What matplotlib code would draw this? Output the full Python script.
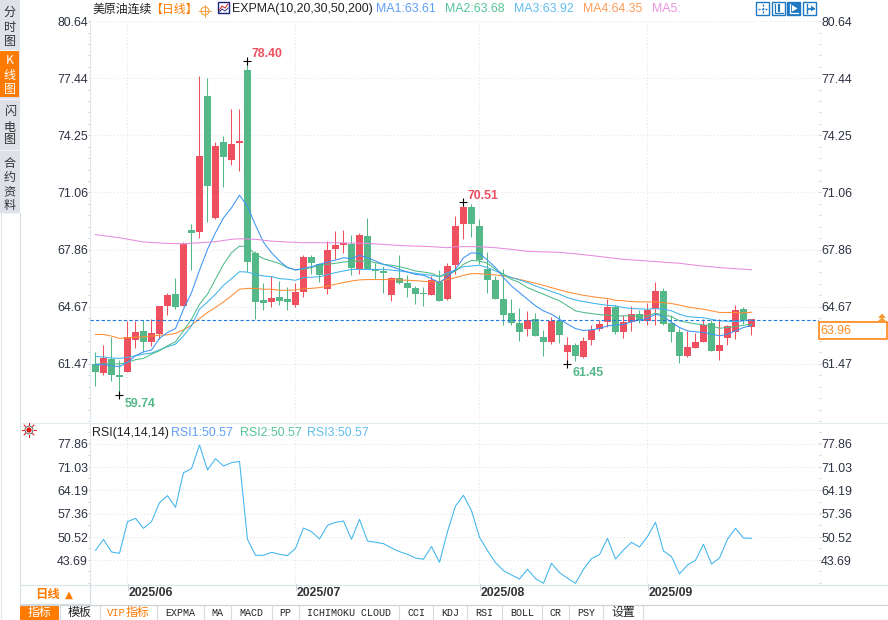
import numpy as np
import matplotlib
matplotlib.use("Agg")
import matplotlib.pyplot as plt
from matplotlib.patches import Rectangle, Polygon, Circle

plt.rcParams['font.family'] = ['Liberation Sans', 'Noto Sans CJK SC', 'DejaVu Sans']

# candles
opens = [61.46, 60.95, 61.73, 60.84, 61.03, 62.81, 63.30, 62.70, 63.15, 64.71, 65.36, 64.71, 68.93, 68.83,
         76.46, 69.61, 73.89, 72.89, 73.80, 77.91, 67.65, 65.02, 64.91, 65.19, 65.08, 64.75, 65.49, 67.42,
         67.03, 65.64, 67.87, 68.09, 68.15, 66.75, 68.59, 66.75, 66.64, 65.30, 66.25, 65.97, 65.69, 65.41,
         65.34, 66.03, 65.08, 66.98, 69.26, 70.21, 69.15, 66.75, 66.14, 65.08, 64.30, 63.74, 63.41, 63.96,
         62.96, 62.68, 63.85, 62.12, 62.51, 61.84, 62.79, 63.41, 63.80, 64.63, 63.24, 63.80, 64.24, 63.85,
         64.52, 65.53, 63.74, 63.24, 61.90, 62.35, 62.68, 63.74, 62.18, 62.90, 63.24, 64.52, 63.52]
closes = [61.03, 61.77, 60.86, 60.75, 62.94, 63.22, 62.70, 63.18, 64.69, 65.30, 64.65, 68.17, 68.78, 73.11,
          71.40, 73.67, 73.02, 73.78, 73.95, 67.16, 64.93, 64.86, 65.14, 64.99, 64.91, 65.47, 67.42, 67.09,
          66.42, 67.81, 68.09, 68.22, 66.81, 68.65, 66.75, 66.66, 66.53, 66.25, 65.97, 65.69, 65.36, 65.38,
          66.14, 64.97, 66.92, 69.15, 70.21, 69.26, 67.25, 66.14, 65.08, 64.19, 63.74, 63.24, 63.91, 63.02,
          62.70, 63.85, 63.07, 62.51, 61.90, 62.74, 63.37, 63.69, 64.63, 63.24, 63.80, 64.24, 63.91, 64.47,
          65.53, 63.69, 63.24, 61.90, 62.40, 62.68, 63.63, 62.18, 62.51, 63.57, 64.47, 63.91, 63.96]
highs = [62.11, 62.51, 62.98, 61.68, 63.87, 63.87, 63.91, 63.96, 64.71, 65.41, 66.25, 68.30, 69.26, 77.57,
         77.46, 73.89, 74.23, 75.73, 75.73, 78.40, 67.78, 66.01, 66.40, 66.08, 65.79, 65.97, 67.53, 67.53,
         67.12, 68.31, 68.87, 68.93, 68.65, 68.76, 69.60, 67.12, 66.94, 66.31, 67.53, 66.42, 65.80, 65.75,
         66.36, 66.70, 67.09, 69.71, 70.51, 70.38, 69.54, 67.70, 66.36, 66.75, 65.08, 64.58, 64.41, 64.30,
         63.35, 64.08, 64.19, 62.96, 62.63, 62.96, 63.63, 63.91, 65.08, 64.74, 64.19, 64.69, 64.47, 64.86,
         66.03, 65.69, 64.19, 63.46, 63.30, 63.18, 63.96, 63.91, 63.96, 63.63, 64.74, 64.63, 63.96]
lows = [60.25, 60.86, 60.53, 59.74, 61.00, 62.35, 62.14, 62.48, 62.85, 64.19, 64.52, 64.71, 66.72, 68.48,
        69.39, 69.54, 71.34, 72.61, 72.27, 66.62, 63.96, 64.47, 64.63, 64.75, 64.47, 64.63, 65.19, 66.47,
        66.05, 65.36, 67.31, 67.64, 66.42, 66.47, 66.75, 66.20, 65.41, 64.97, 65.92, 65.19, 64.80, 64.69,
        65.30, 64.97, 65.02, 66.47, 68.43, 68.54, 67.03, 65.41, 65.08, 63.63, 63.63, 62.74, 63.02, 63.02,
        61.90, 62.57, 62.63, 61.45, 61.62, 61.79, 62.51, 63.30, 63.52, 63.13, 62.90, 63.30, 63.74, 63.63,
        63.63, 63.63, 62.68, 61.50, 61.84, 62.35, 62.68, 62.18, 61.68, 62.51, 62.85, 63.69, 63.07]

# moving averages
ma1 = [61.42, 61.42, 61.36, 61.31, 61.55, 61.92, 62.14, 62.24, 62.89, 63.22, 63.44, 64.52, 65.45, 66.70,
       67.87, 68.80, 69.63, 70.19, 70.90, 70.27, 69.22, 68.27, 67.68, 67.22, 66.85, 66.72, 66.81, 66.90,
       67.03, 67.16, 67.27, 67.40, 67.35, 67.53, 67.40, 67.22, 67.03, 66.90, 66.75, 66.60, 66.47, 66.42,
       66.23, 66.01, 66.34, 66.75, 67.40, 67.68, 67.63, 67.27, 66.85, 66.29, 65.82, 65.45, 65.08, 64.71,
       64.43, 64.24, 63.96, 63.69, 63.44, 63.33, 63.37, 63.44, 63.59, 63.63, 63.67, 63.81, 63.93, 64.00,
       64.24, 64.11, 63.78, 63.50, 63.31, 63.26, 63.22, 63.13, 63.03, 63.13, 63.31, 63.50, 63.61]
ma2 = [61.46, 61.46, 61.47, 61.46, 61.55, 61.70, 61.77, 62.01, 62.20, 62.48, 62.70, 63.31, 63.96, 64.80,
       65.36, 66.20, 67.03, 67.68, 68.05, 68.02, 67.59, 67.35, 67.22, 67.07, 66.85, 66.72, 66.75, 66.85,
       66.98, 67.03, 67.09, 67.16, 67.20, 67.22, 67.22, 67.12, 67.03, 66.98, 66.90, 66.79, 66.66, 66.60,
       66.53, 66.34, 66.47, 66.66, 67.03, 67.25, 67.22, 67.09, 66.75, 66.47, 66.19, 66.01, 65.73, 65.54,
       65.36, 65.17, 64.99, 64.71, 64.43, 64.34, 64.28, 64.22, 64.19, 64.15, 64.15, 64.15, 64.15, 64.15,
       64.30, 64.21, 64.11, 63.87, 63.78, 63.70, 63.65, 63.59, 63.46, 63.50, 63.55, 63.63, 63.68]
ma3 = [61.88, 61.85, 61.79, 61.77, 61.83, 61.92, 62.01, 62.07, 62.25, 62.42, 62.57, 63.03, 63.59, 64.52,
       64.93, 65.36, 65.86, 66.23, 66.62, 66.60, 66.47, 66.38, 66.34, 66.23, 66.20, 66.14, 66.29, 66.31,
       66.34, 66.45, 66.57, 66.66, 66.75, 66.75, 66.75, 66.75, 66.75, 66.71, 66.66, 66.60, 66.53, 66.47,
       66.42, 66.34, 66.57, 66.71, 66.90, 66.94, 66.98, 66.85, 66.66, 66.47, 66.29, 66.16, 66.01, 65.82,
       65.67, 65.51, 65.36, 65.17, 65.04, 64.95, 64.87, 64.80, 64.74, 64.71, 64.61, 64.56, 64.54, 64.52,
       64.56, 64.52, 64.43, 64.24, 64.11, 64.07, 64.04, 63.96, 63.87, 63.85, 63.83, 63.87, 63.92]
ma4 = [63.11, 63.11, 63.02, 62.89, 62.92, 62.96, 62.98, 63.02, 63.07, 63.09, 63.17, 63.37, 63.63, 64.00,
       64.34, 64.62, 64.93, 65.27, 65.64, 65.69, 65.68, 65.64, 65.64, 65.58, 65.58, 65.60, 65.67, 65.69,
       65.73, 65.82, 65.92, 66.01, 66.10, 66.16, 66.18, 66.18, 66.18, 66.18, 66.16, 66.14, 66.12, 66.08,
       66.06, 66.06, 66.19, 66.29, 66.42, 66.51, 66.51, 66.47, 66.44, 66.38, 66.29, 66.19, 66.08, 65.97,
       65.86, 65.73, 65.60, 65.49, 65.39, 65.30, 65.23, 65.17, 65.12, 65.02, 64.99, 64.95, 64.93, 64.93,
       64.93, 64.89, 64.84, 64.75, 64.65, 64.58, 64.52, 64.43, 64.34, 64.34, 64.34, 64.32, 64.35]
ma5_idx = [0, 3, 6, 9, 11, 13, 15, 17, 18, 20, 22, 24, 26, 30, 34, 38, 40, 42, 44, 45, 48, 50, 52, 54, 55,
           58, 60, 63, 66, 69, 73, 75, 78, 82]
ma5 = [68.69, 68.52, 68.28, 68.20, 68.18, 68.24, 68.30, 68.43, 68.46, 68.43, 68.33, 68.28, 68.24, 68.24,
       68.20, 68.09, 68.05, 68.02, 67.96, 68.02, 68.02, 67.96, 67.87, 67.76, 67.74, 67.70, 67.62, 67.47,
       67.31, 67.22, 67.09, 66.98, 66.85, 66.73]

rsi = [46.6, 49.85, 46.14, 45.75, 55.04, 56.02, 53.08, 55.04, 60.62, 62.67, 59.25, 69.42, 70.60, 77.55,
       70.21, 73.53, 71.38, 72.36, 72.75, 49.85, 45.16, 45.16, 46.04, 45.45, 45.06, 47.21, 53.18, 52.10,
       49.95, 53.96, 54.85, 55.24, 49.85, 55.72, 49.37, 48.97, 48.58, 47.31, 46.23, 45.45, 44.37, 43.98,
       47.70, 43.10, 52.10, 59.64, 62.77, 58.27, 50.44, 46.53, 43.00, 40.66, 39.38, 38.21, 41.05, 38.31,
       36.94, 42.81, 40.07, 38.41, 36.94, 41.05, 44.18, 45.35, 50.15, 44.08, 46.72, 48.97, 47.60, 50.64,
       54.85, 46.43, 44.77, 39.68, 42.32, 43.69, 48.39, 42.61, 44.37, 49.85, 53.08, 50.25, 50.15]

price_ticks = [80.64, 77.44, 74.25, 71.06, 67.86, 64.67, 61.47]
rsi_ticks = [77.86, 71.03, 64.19, 57.36, 50.52, 43.69]
date_idx = [4, 25, 48, 69]
date_labels = ['2025/06', '2025/07', '2025/08', '2025/09']
last_price = 63.96
tab_labels = ['EXPMA', 'MA', 'MACD', 'PP', 'ICHIMOKU CLOUD', 'CCI', 'KDJ', 'RSI', 'BOLL', 'CR', 'PSY']
tab_edges = [157, 204, 231, 272, 299, 399, 433, 467, 502, 542, 569, 603]

RED = '#ee5060'
GREEN = '#55b888'
C1, C2, C3, C4, C5 = '#3b94f5', '#4dbb87', '#3fb4ec', '#ff8c35', '#e68adf'
MUTED1, MUTED2, MUTED3, MUTED4, MUTED5 = '#5f9ff8', '#55c596', '#62bdf0', '#ff9c57', '#ea94e2'
ORANGE = '#ff7a00'
GRID = '#e3e7ea'
TXT = '#2d3242'
W, H = 888, 620
LW = 0.75


def px_axes(fig, x0, y0, x1, y1, **kw):
    return fig.add_axes([x0 / W, 1 - y1 / H, (x1 - x0) / W, (y1 - y0) / H], **kw)


def style_panel(ax, ticks, minor):
    ax.set_yticks(ticks)
    ax.set_yticks(minor, minor=True)
    ax.set_yticklabels(['%.2f' % t for t in ticks], fontsize=8.9, color=TXT)
    ax.tick_params(axis='y', which='major', length=1, color='#c9ced3', width=0.7, left=True, right=True,
                   labelleft=True, labelright=True, pad=0.5)
    ax.tick_params(axis='y', which='minor', length=1.5, color='#c9ced3', width=0.7, left=True, right=True)
    ax.set_xticks(date_idx)
    ax.tick_params(axis='x', length=0, labelbottom=False)
    ax.grid(axis='both', which='major', color=GRID, linestyle=(0, (1, 2)), linewidth=0.8)
    ax.set_axisbelow(True)
    for s in ['top', 'right', 'bottom']:
        ax.spines[s].set_visible(False)
    ax.spines['left'].set_color('#dfe8ec')


fig = plt.figure(figsize=(W / 100, H / 100), dpi=100, facecolor='white')

# price panel
ax = px_axes(fig, 90, 21, 819, 421)
ax.set_xlim(-0.6875, 90.44)
ax.set_ylim(58.33, 80.64)
style_panel(ax, price_ticks, np.arange(58.27, 80.64, 0.639))
idx = np.arange(len(opens))
colors = [RED if c >= o else GREEN for o, c in zip(opens, closes)]
ax.vlines(idx, lows, highs, colors=colors, linewidth=0.75, zorder=2)
ax.bar(idx, np.abs(np.array(closes) - np.array(opens)), bottom=np.minimum(opens, closes), width=0.875,
       color=colors, linewidth=0, zorder=3)
ax.plot(idx, ma4, color=C4, lw=LW, zorder=4)
ax.plot(idx, ma3, color=C3, lw=LW, zorder=4)
ax.plot(idx, ma2, color=C2, lw=LW, zorder=4)
ax.plot(idx, ma1, color=C1, lw=LW, zorder=4)
ax.plot(ma5_idx, ma5, color=C5, lw=LW, zorder=4)
ax.axhline(last_price - 0.05, color='#1f7be0', lw=0.8, linestyle=(0, (3, 2)), zorder=5)

# high / low marks
for i, val, col, dx, dy in [(19, 78.40, RED, 4.5, 7), (46, 70.51, RED, 4, 6),
                            (3, 59.74, GREEN, 5, -9), (59, 61.45, GREEN, 5, -9)]:
    ax.plot([i], [val], marker='+', color='black', ms=5.5, mew=0.8, zorder=6, clip_on=False)
    ax.annotate('%.2f' % val, (i, val), xytext=(dx, dy), textcoords='offset pixels', color=col,
                fontsize=8.9, fontweight='bold', va='center', ha='left', zorder=6)

# rsi panel
ax2 = px_axes(fig, 90, 423, 819, 584)
ax2.set_xlim(-0.6875, 90.44)
ax2.set_ylim(36.73, 84.01)
style_panel(ax2, rsi_ticks, np.arange(37.0, 84.0, 3.417))
ax2.plot(idx, rsi, color=C3, lw=LW, zorder=4)

# page chrome drawn in pixel coordinates
ui = fig.add_axes([0, 0, 1, 1], zorder=10)
ui.set_xlim(0, W)
ui.set_ylim(H, 0)
ui.axis('off')
ui.patch.set_alpha(0)

CJK = ['Noto Sans CJK SC', 'DejaVu Sans']

# side tabs
ui.add_patch(Rectangle((0, 0), 19.5, 213, fc='#dfe1e9', ec='none'))
ui.add_patch(Rectangle((0, 51), 19, 46, fc=ORANGE, ec='none'))
for y in [49.5, 98.5, 149.5, 213]:
    ui.plot([0, 20], [y, y], color='#f3f4f7', lw=0.8)
ui.plot([20, 20], [213, 604], color='#d9dee2', lw=0.8)
ui.plot([0.5, 0.5], [213, 620], color='#e4e7ea', lw=0.8)
side = [(list('分时图'), [12, 27, 41], '#333333'), (list('K线图'), [61, 76, 90], 'white'),
        (list('闪电图'), [112, 127, 140], '#333333'), (list('合约资料'), [163, 178, 192, 205], '#333333')]
for chars, ys, col in side:
    for ch, y in zip(chars, ys):
        ui.text(9.7, y, ch, ha='center', va='center', fontsize=8.7, color=col, family=CJK)

# price header
ui.text(92, 9, '美原油连续', fontsize=8.6, va='center', color='#222222', family=CJK)
ui.text(150, 9, '【日线】', fontsize=8.6, va='center', color=ORANGE, family=CJK)
ui.add_patch(Circle((205, 11), 4, fc='none', ec='#f5a040', lw=0.8))
ui.plot([199, 211], [11, 11], color='#f5a040', lw=0.7)
ui.plot([205, 205], [5, 17], color='#f5a040', lw=0.7)
ui.add_patch(Rectangle((218, 2), 11, 11, fc='white', ec='#1a237e', lw=1))
ui.plot([219.5, 222, 225, 228], [10, 6, 8, 4], color='#d02020', lw=0.7)
ui.plot([219.5, 222, 225, 228], [12, 9, 11, 8], color='#1a237e', lw=0.6)
ui.text(232, 9, 'EXPMA(10,20,30,50,200)', fontsize=8.9, va='center', color='#222222')
for x, s, col in [(376, 'MA1:63.61', MUTED1), (445, 'MA2:63.68', MUTED2), (514, 'MA3:63.92', MUTED3),
                  (583, 'MA4:64.35', MUTED4), (652, 'MA5:', MUTED5)]:
    ui.text(x, 9, s, fontsize=8.9, va='center', color=col)

# toolbar icons
for n, x in enumerate([756, 771.5, 787, 803]):
    filled = n == 2
    ui.add_patch(Rectangle((x, 2), 13, 13, fc='#1f78c1' if filled else 'white', ec='#1f78c1', lw=1))
    col = 'white' if filled else '#1f78c1'
    if n == 0:
        ui.plot([x + 2, x + 11], [8.5, 8.5], color=col, lw=1, linestyle=(0, (1.5, 1)))
        ui.plot([x + 6.5, x + 6.5], [4, 13], color=col, lw=1, linestyle=(0, (1.5, 1)))
    elif n == 1:
        ui.plot([x + 3, x + 3, x + 11], [3.5, 12.5, 12.5], color=col, lw=0.9)
        ui.plot([x + 7, x + 7], [5, 11], color=col, lw=1.5)
    elif n == 2:
        ui.plot([x + 3, x + 3, x + 11], [3.5, 12.5, 12.5], color=col, lw=0.9)
        ui.add_patch(Polygon([(x + 5, 5), (x + 10.5, 8.5), (x + 5, 11.5)], fc=col, ec='none'))
    else:
        ui.plot([x + 3.5, x + 3.5], [4, 13], color=col, lw=1)
        ui.plot([x + 5, x + 11], [8.5, 8.5], color=col, lw=1.2)
        ui.add_patch(Polygon([(x + 8, 5.5), (x + 12, 8.5), (x + 8, 11.5)], fc=col, ec='none'))

# current price tag
ui.add_patch(Rectangle((818.5, 321.5), 68, 17, fc='white', ec=ORANGE, lw=1.1))
ui.text(820.5, 330.5, '%.2f' % last_price, fontsize=8.9, va='center', color='#ff8a1f')
ui.add_patch(Polygon([(878, 318), (882, 313.5), (886, 318)], fc='#f79a2e', ec='none'))
ui.add_patch(Polygon([(878, 321), (882, 317.5), (886, 321)], fc='#f79a2e', ec='none'))

# rsi header
ui.plot([20, 888], [422.5, 422.5], color='#e3ecee', lw=0.9)
ui.add_patch(Circle((29, 430), 2.6, fc='#e01010', ec='none'))
ui.add_patch(Circle((29, 430), 4, fc='none', ec='#303030', lw=0.5))
for a in np.arange(0, 2 * np.pi, np.pi / 4):
    ui.plot([29 + 5 * np.cos(a), 29 + 7 * np.cos(a)], [430 + 5 * np.sin(a), 430 + 7 * np.sin(a)],
            color='#e01010', lw=0.7)
ui.text(92, 433, 'RSI(14,14,14)', fontsize=8.9, va='center', color='#222222')
for x, s, col in [(171, 'RSI1:50.57', MUTED1), (239.5, 'RSI2:50.57', MUTED2), (307, 'RSI3:50.57', MUTED3)]:
    ui.text(x, 433, s, fontsize=8.9, va='center', color=col)

# date strip
ui.plot([20, 888], [584.5, 584.5], color='#dde6e9', lw=0.9)
ui.plot([20, 90], [604, 604], color='#d9dee2', lw=0.9)
ui.plot([90, 90], [584, 604], color='#d9dee2', lw=0.9)
ax_x = lambda i: 95.5 + 8 * i
for i, lab in zip(date_idx, date_labels):
    ui.plot([ax_x(i), ax_x(i)], [584, 590], color='#cfd6da', lw=0.8)
    ui.text(ax_x(i) + 1.5, 592.8, lab, fontsize=8.8, fontweight='bold', va='center', color='#333333')
ui.text(35, 594.5, '日线', fontsize=8.9, fontweight='bold', va='center', color=ORANGE, family=CJK)
ui.text(68.5, 594.5, '▲', fontsize=7.5, va='center', ha='center', color=ORANGE, family=['DejaVu Sans'])

# bottom tabs
ui.plot([20, 888], [604.5, 604.5], color='#cdd5da', lw=0.9)
ui.plot([643, 888], [619.5, 619.5], color='#cdd5da', lw=0.9)
ui.add_patch(Rectangle((20, 605), 39, 15, fc=ORANGE, ec='none'))
ui.text(39.5, 612.5, '指标', fontsize=8.6, ha='center', va='center', color='white', family=CJK)
ui.text(79, 612.5, '模板', fontsize=8.6, ha='center', va='center', color='#222222', family=CJK)
ui.text(126, 612.5, 'VIP', fontsize=7.6, ha='right', va='center', color=ORANGE, family=['Liberation Mono'])
ui.text(126, 612.5, '指标', fontsize=8.6, ha='left', va='center', color=ORANGE, family=CJK)
ui.text(623, 612.5, '设置', fontsize=8.6, ha='center', va='center', color='#222222', family=CJK)
for k, lab in enumerate(tab_labels):
    left, right = tab_edges[k], tab_edges[k + 1]
    ui.text((left + right) / 2, 612.5, lab, fontsize=7.2, ha='center', va='center', color='#222222',
            family=['Liberation Mono'])
for x in [59.5, 99.5] + tab_edges + [643]:
    ui.plot([x, x], [605, 620], color='#d4dade', lw=0.8)

fig.savefig('out.png', dpi=100)
